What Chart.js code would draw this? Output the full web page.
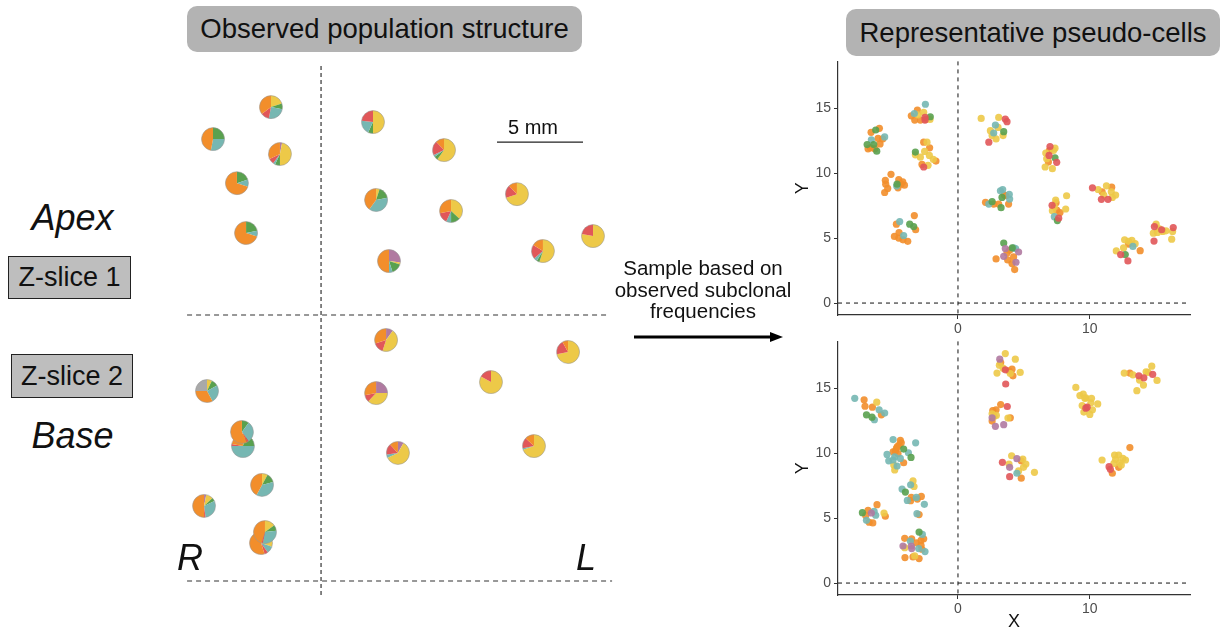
<!DOCTYPE html>
<html>
<head>
<meta charset="utf-8">
<title>Observed population structure vs pseudo-cells</title>
<script src="https://cdn.jsdelivr.net/npm/chart.js@4.4.1/dist/chart.umd.min.js"></script>
<style>
  body { margin: 0; background: #fff; font-family: 'Liberation Sans', Arial, sans-serif; color: #111; }
  #page { position: relative; width: 1224px; height: 635px; overflow: hidden; }
  .abs { position: absolute; }
  .title { background: #B3B3B3; border-radius: 10px; font-size: 27.5px; display: flex; align-items: center; justify-content: center; }
  .zbox { background: #BEBEBE; border: 1.5px solid #222; font-size: 27px; display: flex; align-items: center; justify-content: center; box-sizing: border-box; }
  .big { font-style: italic; font-size: 36px; text-align: center; line-height: 40px; }
  canvas { position: absolute; }
</style>
</head>
<body>
<div id="page">
  <div class="abs title" style="left:187px;top:6px;width:395px;height:46px;">Observed population structure</div>
  <div class="abs title" style="left:846px;top:9px;width:374px;height:47px;">Representative pseudo-cells</div>

  <div class="abs big" style="left:0;top:198px;width:145px;">Apex</div>
  <div class="abs zbox" style="left:8px;top:256px;width:123px;height:43px;">Z-slice 1</div>
  <div class="abs zbox" style="left:11px;top:354px;width:122px;height:44px;">Z-slice 2</div>
  <div class="abs big" style="left:0;top:416px;width:145px;">Base</div>

  <canvas id="chart-map" width="440" height="540" style="left:180px;top:60px;"></canvas>
  <div class="abs big" style="left:170px;top:538px;width:40px;">R</div>
  <div class="abs big" style="left:566px;top:538px;width:40px;">L</div>
  <div class="abs" style="left:493px;top:116px;width:80px;text-align:center;font-size:20px;">5 mm</div>

  <div class="abs" style="left:603px;top:257px;width:200px;text-align:center;font-size:20.5px;line-height:21.5px;">Sample based on<br>observed subclonal<br>frequencies</div>
  <svg class="abs" style="left:630px;top:328px;" width="160" height="18">
    <line x1="4" y1="9" x2="142" y2="9" stroke="#000" stroke-width="3"/>
    <polygon points="140,4 153,9 140,14" fill="#000"/>
  </svg>

  <canvas id="chart-top" width="412" height="290" style="left:788px;top:50px;"></canvas>
  <canvas id="chart-bottom" width="412" height="305" style="left:788px;top:330px;"></canvas>
</div>

<script>
// ── Subclone colours: purple, yellow, green, teal, red, orange, grey ──
const CLONE_COLORS = ['#B07AA1', '#EDC948', '#59A14F', '#76B7B2', '#E15759', '#F28E2B', '#A9A9A9'];

// ── Observed sections (mm) ───────────────────────────────────────
const PIE_X = [5.29, 1.92, 5.81, 3.31, 3.84, 11.22, 15.35, 11.40, 15.76, 19.59, 12.15, 21.10, 24.01,
               11.98, 11.40, 22.56, 18.08, 12.67, 20.58, 1.57, 3.66, 3.60, 4.77, 1.40, 4.71, 4.94];
const PIE_Y = [28.66, 26.80, 25.93, 24.24, 21.34, 27.79, 26.16, 23.26, 22.62, 23.60, 19.71, 20.29, 21.16,
               15.12, 12.03, 14.42, 12.67, 8.55, 8.95, 12.15, 8.95, 9.77, 6.69, 5.47, 3.31, 3.95];
// fractions per pie, in CLONE_COLORS order
const PIE_FRACS = [
  [0, .20, .08, .25, .12, .35, 0],
  [0, 0, .25, .28, 0, .47, 0],
  [.03, .47, .07, .03, .08, .32, 0],
  [0, 0, .20, .10, 0, .70, 0],
  [0, 0, .22, .08, 0, .70, 0],
  [0, .50, .07, .20, .23, 0, 0],
  [0, .60, .05, .03, .20, .12, 0],
  [0, .05, .17, .38, 0, .40, 0],
  [0, .37, .13, .07, .15, .28, 0],
  [0, .70, 0, 0, .18, .12, 0],
  [.27, .03, .15, .05, 0, .50, 0],
  [0, .55, .04, .05, .20, .16, 0],
  [0, .78, 0, 0, .22, 0, 0],
  [.10, .45, 0, 0, .15, .30, 0],
  [.25, .37, 0, 0, .10, .28, 0],
  [0, .72, 0, 0, .20, .08, 0],
  [0, .83, 0, 0, .17, 0, 0],
  [.08, .60, 0, .05, .15, .12, 0],
  [0, .70, 0, .02, .15, .13, 0],
  [0, .07, .10, .25, 0, .33, .25],
  [0, .05, .20, .50, .03, .22, 0],
  [0, 0, .10, .30, .03, .57, 0],
  [0, .08, .13, .37, 0, .42, 0],
  [.03, .10, .05, .30, .02, .50, 0],
  [.10, .20, 0, .10, .05, .55, 0],
  [0, .15, .08, .30, .02, .45, 0]
];
const MAP_X_RANGE = [0, 25.58];
const MAP_Y_RANGE = [0, 31.40];
const MIDLINE_X = [[8.2, 0.29], [8.2, 31.1]];
const SLICE_LINE = [[0.41, 16.57], [25.0, 16.57]];
const BASE_LINE = [[0.41, 1.10], [25.12, 1.10]];
const SCALE_BAR = [[18.43, 26.63], [23.43, 26.63]];

// ── Pseudo-cells, slice 1 (top) ──────────────────────────────────
const TOP_ORANGE = [[-6.59,13.14],[-5.96,13.45],[-6.06,12.68],[-5.71,12.63],[-5.91,12.25],[-6.82,11.87],[-6.31,11.87],[-6.64,11.95],
  [-3.08,14.85],[-3.54,14.41],[-3.28,14.08],[-2.85,14.08],[-2.45,14.13],
  [-2.60,12.38],[-2.15,11.95],[-1.67,10.93],[-2.73,10.67],
  [-5.08,9.91],[-5.51,9.45],[-4.49,9.5],[-5.48,9.15],[-4.19,9.33],[-4.06,9.07],[-4.55,8.87],[-5.33,8.82],[-5.56,8.51],[-4.32,9.15],
  [-3.31,6.73],[-4.67,6.07],[-3.21,5.64],[-4.47,5.43],[-4.82,5.13],[-4.49,5.0],[-4.17,4.87],[-3.81,4.75],
  [6.93,11.74],[6.86,10.85],
  [3.52,8.31],[2.09,7.75],[2.71,7.62],[3.09,7.62],[3.84,7.62],[3.64,8.26],
  [7.44,7.72],[7.49,7.16],[7.74,6.96],
  [11.66,8.92],[10.93,8.56],
  [12.94,4.54],[13.82,4.03],
  [3.92,4.06],[3.72,3.85],[4.22,3.55],[2.89,3.40],[3.77,3.32],[4.10,3.04],[4.30,2.58]];
const TOP_YELLOW = [[-2.60,14.67],[-3.03,14.49],[-2.12,14.13],
  [-2.35,12.38],[-2.53,11.67],[-3.23,11.41],[-2.85,11.23],[-2.17,11.36],[-1.87,11.06],[-2.27,10.6],
  [1.76,14.21],[3.09,14.29],[3.04,13.52],[2.46,13.27],[2.59,12.89],[3.42,12.89],[2.89,12.63],
  [7.36,11.92],[6.66,11.54],[7.24,11.74],[6.73,11.11],[6.61,10.47],[7.16,10.34],
  [8.24,8.26],[7.41,7.93],[7.31,7.42],[8.17,7.24],[7.16,7.11],
  [11.26,9.02],[10.63,8.74],[11.63,8.56],[11.96,8.31],[11.06,8.31],[11.71,8.13],
  [12.64,4.87],[13.19,4.82],[13.44,4.57],[12.56,4.24],[12.01,4.01],[12.94,4.75],
  [15.03,6.07],[15.28,5.71],[14.82,5.38],[15.13,5.43],[15.78,5.56],[16.28,5.51],[16.21,4.92],[15.53,5.51]];
const TOP_GREEN = [[-6.24,13.32],[-6.89,12.2],[-6.39,12.2],[-6.16,11.69],[-2.10,14.34],[-3.23,11.62],[-4.62,9.15],
  [-3.66,6.07],[-3.36,5.89],[3.47,13.19],[7.36,11.18],[3.34,8.13],[2.59,7.80],[3.27,7.34],[7.54,6.35],[12.69,3.73],
  [3.47,4.62],[4.12,4.24]];
const TOP_TEAL = [[-6.57,12.56],[-5.56,12.79],[-2.47,15.3],[-3.31,14.59],[-4.65,9.0],[-4.42,6.27],[-4.12,5.2],
  [2.84,13.70],[2.71,13.09],[3.22,8.64],[3.39,8.74],[3.89,8.36],[3.92,8.0],[2.34,7.62],[7.31,6.65],[13.27,4.36],
  [4.22,4.24],[4.37,4.19]];
const TOP_RED = [[-2.50,14.29],[-2.50,14.08],[-2.60,10.47],[3.59,14.16],[3.72,13.96],[2.34,12.38],
  [6.98,12.05],[6.91,11.36],[7.49,10.83],[7.14,7.52],[7.64,6.53],[10.2,8.87],[10.88,7.98],[11.38,7.98],
  [12.34,3.73],[12.89,3.24],[14.90,5.89],[15.45,5.64],[16.33,5.81],[14.87,4.77]];
const TOP_PURPLE = [[3.59,4.19],[4.60,3.93],[3.47,3.60],[4.40,3.14]];

// ── Pseudo-cells, slice 2 (bottom) ───────────────────────────────
const BOT_ORANGE = [[-7.12,14.10],[-7.05,13.61],[-6.49,13.54],[-5.81,12.95],
  [-4.37,10.99],[-4.47,10.61],[-4.67,10.36],[-4.92,10.10],[-4.55,9.97],[-4.12,9.26],[-4.75,10.15],[-4.6,10.5],[-4.3,10.8],
  [-3.54,6.59],[-2.78,6.67],[-3.59,6.34],[-3.08,6.46],[-2.95,5.27],
  [-6.14,6.03],[-6.82,5.60],[-7.0,5.19],[-5.51,5.14],[-6.74,4.68],[-6.46,4.63],
  [-4.04,3.44],[-3.51,3.41],[-2.60,3.41],[-2.80,3.28],[-3.16,3.10],[-2.80,2.90],[-2.73,2.60],[-4.02,1.96],[-3.41,2.01],[-2.95,1.88],
  [3.24,16.97],[4.10,16.46],[3.87,16.34],[4.17,15.95],
  [3.24,13.74],[2.64,13.28],[2.89,13.33],[3.97,12.72],[2.59,12.47],
  [4.80,9.41],[4.80,8.07],[13.04,16.16],[13.04,10.43],[12.19,8.91],[11.71,8.45]];
const BOT_YELLOW = [[-6.16,13.92],[-4.87,9.08],[-4.80,8.70],[-3.41,7.86],[-3.33,7.43],[-5.61,5.39],[-4.04,2.72],[-3.28,2.09],
  [3.59,17.66],[4.35,17.23],[3.14,16.77],[3.42,16.54],[2.96,16.16],[4.72,16.21],[3.97,16.13],
  [2.59,13.03],[2.91,12.90],[3.79,12.70],[2.74,12.82],
  [4.07,9.80],[4.92,9.54],[5.15,9.16],[3.87,9.16],[4.97,8.91],[4.60,8.63],[5.80,8.52],
  [8.94,15.06],[9.25,14.43],[9.50,14.55],[9.70,14.25],[10.13,14.22],[9.62,14.22],[9.42,13.66],[10.60,13.79],[10.08,13.87],[10.20,13.33],[9.55,13.16],[10.0,12.98],
  [12.61,16.16],[13.27,16.03],[14.70,16.69],[14.27,16.26],[14.42,16.21],[15.10,15.60],[13.77,15.62],[14.07,15.24],[13.57,14.81],
  [10.93,9.47],[11.88,9.85],[12.19,9.85],[12.51,9.59],[12.71,9.47],[11.83,9.21],[12.26,9.26],[12.39,9.08],[11.96,9.52]];
const BOT_GREEN = [[-6.94,12.95],[-6.52,12.77],[-4.12,10.31],[-3.56,9.67],[-3.99,7.0],[-7.25,5.42],[-2.95,3.92]];
const BOT_TEAL = [[-7.83,14.22],[-5.98,13.33],[-5.56,13.08],[-6.34,12.57],
  [-4.92,11.04],[-3.21,10.79],[-3.76,10.03],[-5.38,9.90],[-4.80,9.72],[-4.37,9.59],[-5.25,9.41],[-4.92,9.47],[-4.62,9.01],
  [-3.59,7.56],[-4.24,7.23],[-3.16,6.59],[-3.84,6.36],[-2.55,6.06],[-3.11,5.34],
  [-6.36,5.52],[-6.24,5.22],[-6.94,4.83],[-2.70,3.74],[-3.61,3.23],[-2.98,2.65],[-2.50,2.42],[4.47,8.45]];
const BOT_RED = [[3.59,16.41],[3.62,15.32],[3.74,13.59],[3.37,9.29],[3.92,8.19],[9.80,13.54],[9.70,13.46],
  [13.72,15.95],[14.10,15.80],[14.77,16.06],[11.46,8.96],[11.56,8.75]];
const BOT_PURPLE = [[-6.57,5.39],[-4.17,2.85],[-3.54,2.85],[-3.51,2.65],[3.17,17.23],[2.59,12.72],[3.47,12.19],[2.84,12.06],
  [4.47,9.57],[3.92,8.91]];

const X_RANGE = [-9.1, 17.6];
const Y_RANGE = [-0.92, 18.6];

Chart.defaults.font.family = "'Liberation Sans', Arial, sans-serif";

const pts = arr => arr.map(p => ({ x: p[0], y: p[1] }));
const alpha = (hex, a) => {
  const n = parseInt(hex.slice(1), 16);
  return `rgba(${n >> 16},${(n >> 8) & 255},${n & 255},${a})`;
};

// ── Pie glyph plugin for the observed map ────────────────────────
const piePlugin = {
  id: 'pies',
  afterDatasetsDraw(chart) {
    const ctx = chart.ctx;
    chart.data.datasets.forEach((ds, di) => {
      if (!ds.pieFracs) return;
      const meta = chart.getDatasetMeta(di);
      meta.data.forEach((pt, i) => {
        const r = ds.pieRadius;
        let a = -Math.PI / 2;
        ds.pieFracs[i].forEach((f, k) => {
          if (!f) return;
          const b = a + f * 2 * Math.PI;
          ctx.beginPath();
          ctx.moveTo(pt.x, pt.y);
          ctx.arc(pt.x, pt.y, r, a, b);
          ctx.closePath();
          ctx.fillStyle = CLONE_COLORS[k];
          ctx.fill();
          a = b;
        });
        ctx.beginPath();
        ctx.arc(pt.x, pt.y, r, 0, 2 * Math.PI);
        ctx.strokeStyle = 'rgba(150,150,150,0.8)';
        ctx.lineWidth = 0.7;
        ctx.stroke();
      });
    });
  }
};

const lineSet = (arr, color, dash, width) => ({
  data: pts(arr), showLine: true, pointRadius: 0, borderColor: color,
  borderDash: dash, borderWidth: width, fill: false
});

new Chart(document.getElementById('chart-map'), {
  type: 'scatter',
  data: {
    datasets: [
      { data: PIE_X.map((x, i) => ({ x, y: PIE_Y[i] })), pieFracs: PIE_FRACS, pieRadius: 11.5, pointRadius: 0 },
      lineSet(MIDLINE_X, '#333', [4, 3], 1.2),
      lineSet(SLICE_LINE, '#777', [5, 4], 1.5),
      lineSet(BASE_LINE, '#777', [5, 4], 1.5),
      lineSet(SCALE_BAR, '#222', [], 1.2)
    ]
  },
  options: {
    animation: false, responsive: false, devicePixelRatio: 1,
    layout: { padding: 0 },
    plugins: { legend: { display: false }, tooltip: { enabled: false } },
    scales: {
      x: { display: false, min: MAP_X_RANGE[0], max: MAP_X_RANGE[1] },
      y: { display: false, min: MAP_Y_RANGE[0], max: MAP_Y_RANGE[1] }
    }
  },
  plugins: [piePlugin]
});

// ── Dashed reference lines at x = 0 and y = 0 ────────────────────
const zeroLines = {
  id: 'zeroLines',
  beforeDatasetsDraw(chart) {
    const { ctx, chartArea: a, scales: { x, y } } = chart;
    const px = x.getPixelForValue(0), py = y.getPixelForValue(0);
    ctx.save();
    ctx.strokeStyle = '#111';
    ctx.lineWidth = 1;
    ctx.setLineDash([4, 4]);
    ctx.beginPath();
    ctx.moveTo(px, a.top); ctx.lineTo(px, a.bottom);
    ctx.moveTo(a.left, py); ctx.lineTo(a.right, py);
    ctx.stroke();
    ctx.restore();
  }
};

function scatterPanel(id, series, showX) {
  new Chart(document.getElementById(id), {
    type: 'scatter',
    data: {
      datasets: series.map(s => ({
        data: pts(s[0]), backgroundColor: alpha(s[1], 0.9), borderWidth: 0, pointRadius: 3.6
      }))
    },
    options: {
      animation: false, responsive: false, devicePixelRatio: 1,
      layout: { padding: { top: 10, right: 10, left: 0, bottom: 0 } },
      plugins: { legend: { display: false }, tooltip: { enabled: false } },
      scales: {
        x: {
          min: X_RANGE[0], max: X_RANGE[1],
          afterFit: s => { s.height = showX ? 40 : 25; },
          ticks: { stepSize: 10, includeBounds: false, color: '#4D4D4D', font: { size: 14 }, padding: 2, maxRotation: 0 },
          grid: { drawOnChartArea: false, color: '#333', tickLength: 4 },
          border: { color: '#333', width: 1.2 },
          title: { display: showX, text: 'X', color: '#111', font: { size: 18 }, padding: { top: 0, bottom: 2 } }
        },
        y: {
          min: Y_RANGE[0], max: Y_RANGE[1],
          afterFit: s => { s.width = 50; },
          ticks: { stepSize: 5, includeBounds: false, color: '#4D4D4D', font: { size: 14 }, padding: 3 },
          grid: { drawOnChartArea: false, color: '#333', tickLength: 4 },
          border: { color: '#333', width: 1.2 },
          title: { display: true, text: 'Y', color: '#111', font: { size: 18 }, padding: { top: 4, bottom: 0 } }
        }
      }
    },
    plugins: [zeroLines]
  });
}

scatterPanel('chart-top', [
  [TOP_RED, CLONE_COLORS[4]], [TOP_PURPLE, CLONE_COLORS[0]], [TOP_GREEN, CLONE_COLORS[2]],
  [TOP_TEAL, CLONE_COLORS[3]], [TOP_YELLOW, CLONE_COLORS[1]], [TOP_ORANGE, CLONE_COLORS[5]]
], false);

scatterPanel('chart-bottom', [
  [BOT_RED, CLONE_COLORS[4]], [BOT_PURPLE, CLONE_COLORS[0]], [BOT_GREEN, CLONE_COLORS[2]],
  [BOT_TEAL, CLONE_COLORS[3]], [BOT_YELLOW, CLONE_COLORS[1]], [BOT_ORANGE, CLONE_COLORS[5]]
], true);
</script>
</body>
</html>
